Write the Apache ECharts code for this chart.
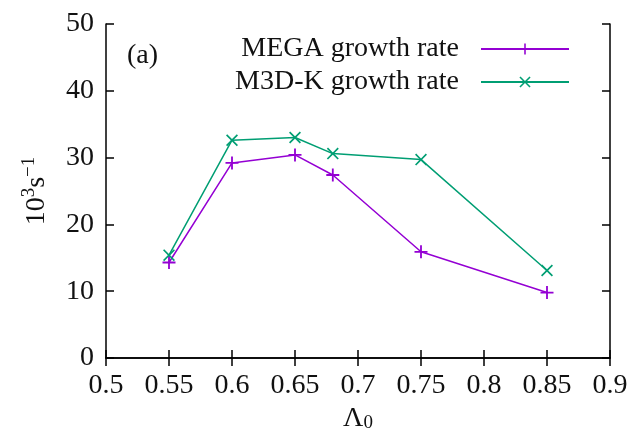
<!DOCTYPE html>
<html>
<head>
<meta charset="utf-8">
<script src="https://cdn.jsdelivr.net/npm/echarts@6/dist/echarts.min.js"></script>
<style>html,body{margin:0;padding:0;background:#fff}#c{width:634px;height:434px}</style>
</head>
<body>
<div id="c"></div>
<script>
const lambda0 = [0.55, 0.6, 0.65, 0.68, 0.75, 0.85];
const megaRate = [14.3, 29.2, 30.4, 27.4, 15.9, 9.8];
const m3dkRate = [15.4, 32.6, 33.0, 30.6, 29.7, 13.1];
const seriesNames = ['MEGA growth rate', 'M3D-K growth rate'];
const xTicks = [0.5, 0.55, 0.6, 0.65, 0.7, 0.75, 0.8, 0.85, 0.9];
const yTicks = [0, 10, 20, 30, 40, 50];

const FONT = '"Liberation Serif", "DejaVu Serif", serif';
const FS = 28;
const TXT = '#111';
const plusPath = 'path://M4.3,0H5.7V4.3H10V5.7H5.7V10H4.3V5.7H0V4.3H4.3Z';
const crossPath = 'path://M0,1L1,0L5,4L9,0L10,1L6,5L10,9L9,10L5,6L1,10L0,9L4,5Z';

const chart = echarts.init(document.getElementById('c'), null, {renderer: 'canvas'});
const axisLine = {lineStyle: {color: '#000', width: 1.5}};
const tickStyle = {inside: true, length: 8, lineStyle: {color: '#000', width: 1.5}};
const xBase = {type: 'value', min: xTicks[0], max: xTicks[xTicks.length - 1], interval: 0.05, splitLine: {show: false}, axisLine: axisLine, axisTick: tickStyle};
const yBase = {type: 'value', min: yTicks[0], max: yTicks[yTicks.length - 1], interval: 10, splitLine: {show: false}, axisLine: axisLine, axisTick: tickStyle};

chart.setOption({
  animation: false,
  backgroundColor: '#fff',
  grid: {left: 106, right: 24, top: 24, bottom: 76, containLabel: false, outerBoundsMode: 'none'},
  title: {text: '(a)', left: 122, top: 37, textStyle: {fontFamily: FONT, fontSize: FS, fontWeight: 'normal', color: TXT}},
  legend: {
    orient: 'vertical', align: 'right', right: 59, top: 30,
    itemWidth: 88, itemHeight: 14, itemGap: 5,
    data: seriesNames,
    textStyle: {fontFamily: FONT, fontSize: FS, color: TXT, padding: [0, 17, 0, 0]}
  },
  xAxis: [
    Object.assign({}, xBase, {
      position: 'bottom',
      name: 'Λ{sub|0}', nameLocation: 'middle', nameGap: 40,
      nameTextStyle: {fontFamily: FONT, fontSize: FS, color: TXT, rich: {sub: {fontFamily: FONT, fontSize: 19, verticalAlign: 'bottom', color: TXT}}},
      axisLabel: {fontFamily: FONT, fontSize: FS, color: TXT, margin: 14, formatter: v => String(+v.toFixed(2))}
    }),
    Object.assign({}, xBase, {position: 'top', axisLabel: {show: false}})
  ],
  yAxis: [
    Object.assign({}, yBase, {
      position: 'left',
      name: '10{sup|3}s{sup|−1}', nameLocation: 'middle', nameGap: 44, nameRotate: 90,
      nameTextStyle: {fontFamily: FONT, fontSize: FS, color: TXT, lineHeight: 36, rich: {sup: {fontFamily: FONT, fontSize: 19, verticalAlign: 'top', color: TXT}}},
      axisLabel: {fontFamily: FONT, fontSize: FS, color: TXT, margin: 12}
    }),
    Object.assign({}, yBase, {position: 'right', axisLabel: {show: false}})
  ],
  series: [
    {
      name: seriesNames[0], type: 'line', xAxisIndex: 0, yAxisIndex: 0,
      data: lambda0.map((x, i) => [x, megaRate[i]]),
      symbol: plusPath, symbolSize: 13, showAllSymbol: true,
      lineStyle: {color: '#9400D3', width: 1.5},
      itemStyle: {color: '#9400D3'}
    },
    {
      name: seriesNames[1], type: 'line', xAxisIndex: 0, yAxisIndex: 0,
      data: lambda0.map((x, i) => [x, m3dkRate[i]]),
      symbol: crossPath, symbolSize: 12, showAllSymbol: true,
      lineStyle: {color: '#009E73', width: 1.5},
      itemStyle: {color: '#009E73'}
    }
  ]
});
</script>
</body>
</html>
